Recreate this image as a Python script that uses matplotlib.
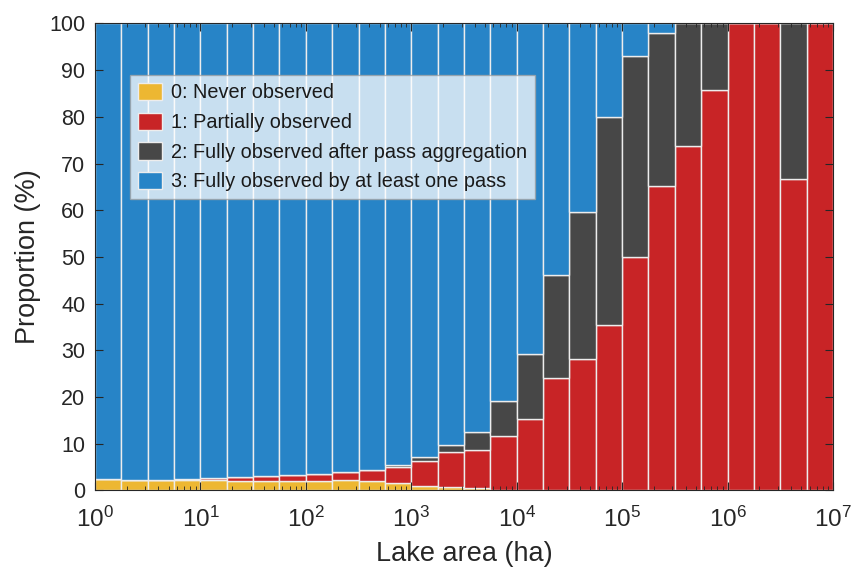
import numpy as np
import matplotlib
matplotlib.use("Agg")
import matplotlib.pyplot as plt
from matplotlib.ticker import FixedLocator, LogLocator, NullFormatter

plt.rcParams['font.family'] = ['Liberation Sans', 'DejaVu Sans']
plt.rcParams['mathtext.fontset'] = 'custom'
plt.rcParams['mathtext.rm'] = 'Liberation Sans'
plt.rcParams['mathtext.it'] = 'Liberation Sans'

# Bin edges: 4 bins per decade from 10^0 to 10^7
bin_exponents = np.arange(0, 7.01, 0.25)

# Cumulative tops (%)
never_observed = [2.4, 2.3, 2.3, 2.3, 2.2, 2.1, 2.1, 2.1, 2.1, 2.2, 2.0, 1.5, 1.0, 0.8,
                  0.6, 0.0, 0.0, 0.0, 0.0, 0.0, 0.0, 0.0, 0.0, 0.0, 0.0, 0.0, 0.0, 0.0]
partial_top = [2.4, 2.3, 2.3, 2.5, 2.7, 2.8, 3.1, 3.3, 3.5, 3.9, 4.4, 5.0, 6.4, 8.2,
               8.7, 11.6, 15.3, 24.0, 28.1, 35.4, 50.0, 65.3, 73.8, 85.8, 100, 100, 66.7, 100]
aggregated_top = [2.4, 2.3, 2.3, 2.5, 2.7, 2.8, 3.1, 3.3, 3.5, 3.9, 4.4, 5.4, 7.1, 9.8,
                  12.5, 19.1, 29.2, 46.1, 59.7, 80.0, 93.1, 98.0, 100, 100, 100, 100, 100, 100]

labels = ['0: Never observed', '1: Partially observed',
          '2: Fully observed after pass aggregation', '3: Fully observed by at least one pass']
colors = ['#EDB732', '#C82426', '#474747', '#2784C7']
x_tick_exponents = [0, 1, 2, 3, 4, 5, 6, 7]
x_tick_labels = [r'$10^{%d}$' % e for e in x_tick_exponents]

edges = 10.0 ** bin_exponents
left = edges[:-1]
widths = edges[1:] - edges[:-1]

y0 = np.array(never_observed)
y1 = np.array(partial_top) - y0
y2 = np.array(aggregated_top) - np.array(partial_top)
y3 = 100 - np.array(aggregated_top)
series = [y0, y1, y2, y3]

fig = plt.figure(figsize=(8.52, 5.70), dpi=100)
ax = fig.add_axes([0.1115, 0.1395, 0.8662, 0.8193])

bottom = np.zeros(len(left))
for vals, c, lab in zip(series, colors, labels):
    ax.bar(left, vals, width=widths, bottom=bottom, align='edge', color=c,
           edgecolor='#EDEDED', linewidth=1.0, label=lab)
    bottom += vals

ax.set_xscale('log')
ax.set_xlim(1, 1e7)
ax.set_ylim(0, 100)
ax.set_yticks(np.arange(0, 101, 10))
ax.xaxis.set_major_locator(FixedLocator(10.0 ** np.array(x_tick_exponents)))
ax.set_xticklabels(x_tick_labels)
ax.xaxis.set_minor_locator(LogLocator(base=10, subs=np.arange(2, 10), numticks=100))
ax.xaxis.set_minor_formatter(NullFormatter())

axcol = '#262626'
for s in ax.spines.values():
    s.set_color(axcol)
    s.set_linewidth(0.8)
ax.tick_params(which='both', direction='in', top=True, right=True, colors=axcol,
               labelcolor='#262626')
ax.tick_params(which='major', length=6, width=0.8)
ax.tick_params(which='minor', length=3, width=0.6)
ax.tick_params(axis='y', which='major', labelsize=15.5, pad=7)
ax.tick_params(axis='x', which='major', labelsize=17.5, pad=12)

ax.set_xlabel('Lake area (ha)', fontsize=19.5, color='#262626', labelpad=6)
ax.set_ylabel('Proportion (%)', fontsize=19.5, color='#262626', labelpad=6)

leg = ax.legend(loc='upper left', bbox_to_anchor=(0.0474, 0.8897), fontsize=14.3,
                frameon=True, fancybox=False, framealpha=0.75, edgecolor='#A0A0A0',
                handlelength=1.2, handleheight=0.95, labelspacing=0.52,
                handletextpad=0.45, borderpad=0.4, borderaxespad=0)
leg.get_frame().set_linewidth(1.0)
for t in leg.get_texts():
    t.set_color('#1a1a1a')

fig.savefig('out.png', dpi=100)
